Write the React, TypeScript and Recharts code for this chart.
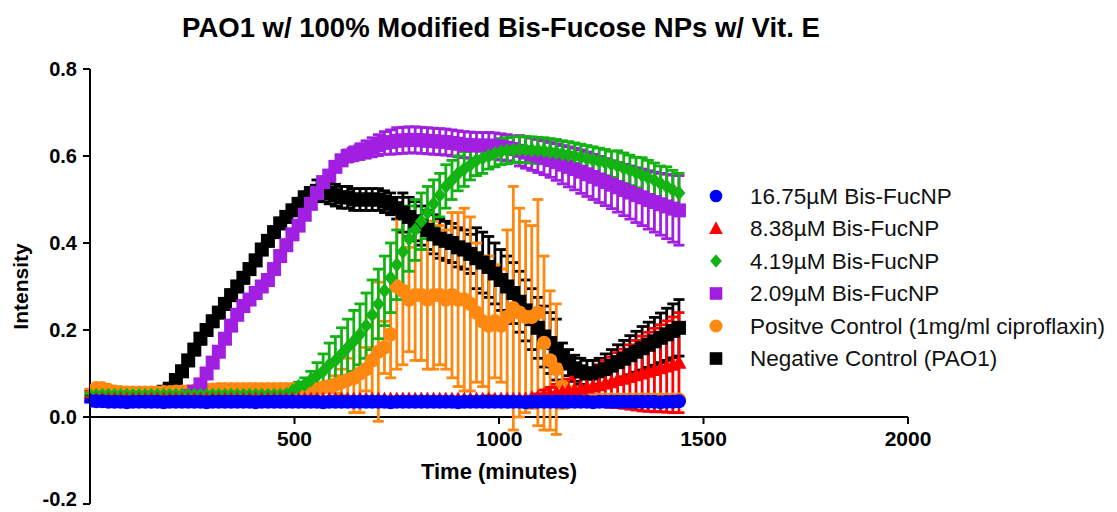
import React from 'react';
import { ScatterChart, Scatter, XAxis, YAxis, ErrorBar, ReferenceLine, Legend } from 'recharts';

// ---------- DATA ----------
const TIME = [
  0, 15, 30, 45, 60, 75, 90, 105, 120, 135,
  150, 165, 180, 195, 210, 225, 240, 255, 270, 285,
  300, 315, 330, 345, 360, 375, 390, 405, 420, 435,
  450, 465, 480, 495, 510, 525, 540, 555, 570, 585,
  600, 615, 630, 645, 660, 675, 690, 705, 720, 735,
  750, 765, 780, 795, 810, 825, 840, 855, 870, 885,
  900, 915, 930, 945, 960, 975, 990, 1005, 1020, 1035,
  1050, 1065, 1080, 1095, 1110, 1125, 1140, 1155, 1170, 1185,
  1200, 1215, 1230, 1245, 1260, 1275, 1290, 1305, 1320, 1335,
  1350, 1365, 1380, 1395, 1410, 1425, 1440,
];

const BLUE_16_75 = [
  0.037, 0.036, 0.036, 0.035, 0.035, 0.035, 0.034, 0.035, 0.035, 0.035,
  0.035, 0.035, 0.034, 0.035, 0.035, 0.035, 0.035, 0.035, 0.035, 0.034,
  0.035, 0.035, 0.035, 0.035, 0.035, 0.035, 0.035, 0.034, 0.035, 0.035,
  0.035, 0.035, 0.035, 0.035, 0.035, 0.035, 0.035, 0.035, 0.034, 0.035,
  0.035, 0.035, 0.035, 0.035, 0.035, 0.035, 0.035, 0.035, 0.035, 0.034,
  0.035, 0.035, 0.035, 0.035, 0.035, 0.035, 0.035, 0.035, 0.035, 0.035,
  0.034, 0.035, 0.035, 0.035, 0.035, 0.035, 0.035, 0.035, 0.035, 0.035,
  0.035, 0.034, 0.035, 0.035, 0.035, 0.035, 0.035, 0.035, 0.035, 0.035,
  0.035, 0.035, 0.034, 0.035, 0.035, 0.035, 0.035, 0.035, 0.035, 0.035,
  0.035, 0.035, 0.035, 0.034, 0.035, 0.035, 0.036,
];
const BLUE_16_75_ERR = [
  0.003, 0.003, 0.003, 0.003, 0.003, 0.003, 0.003, 0.003, 0.003, 0.003,
  0.003, 0.003, 0.003, 0.003, 0.003, 0.003, 0.003, 0.003, 0.003, 0.003,
  0.003, 0.003, 0.003, 0.003, 0.003, 0.003, 0.003, 0.003, 0.003, 0.003,
  0.003, 0.003, 0.003, 0.003, 0.003, 0.003, 0.003, 0.003, 0.003, 0.003,
  0.003, 0.003, 0.003, 0.003, 0.003, 0.003, 0.003, 0.003, 0.003, 0.003,
  0.003, 0.003, 0.003, 0.003, 0.003, 0.003, 0.003, 0.003, 0.003, 0.003,
  0.003, 0.003, 0.003, 0.003, 0.003, 0.003, 0.003, 0.003, 0.003, 0.003,
  0.003, 0.003, 0.003, 0.003, 0.003, 0.003, 0.003, 0.003, 0.003, 0.003,
  0.003, 0.003, 0.003, 0.003, 0.003, 0.003, 0.003, 0.003, 0.003, 0.003,
  0.003, 0.003, 0.003, 0.003, 0.003, 0.003, 0.003,
];

const RED_8_38 = [
  0.04, 0.04, 0.04, 0.04, 0.04, 0.04, 0.04, 0.04, 0.04, 0.04,
  0.04, 0.04, 0.04, 0.04, 0.04, 0.04, 0.04, 0.04, 0.04, 0.04,
  0.04, 0.04, 0.04, 0.04, 0.04, 0.04, 0.04, 0.04, 0.04, 0.04,
  0.04, 0.04, 0.04, 0.04, 0.04, 0.04, 0.04, 0.04, 0.04, 0.04,
  0.04, 0.04, 0.04, 0.04, 0.04, 0.04, 0.04, 0.04, 0.04, 0.04,
  0.04, 0.04, 0.04, 0.04, 0.04, 0.04, 0.04, 0.04, 0.04, 0.04,
  0.04, 0.04, 0.04, 0.04, 0.04, 0.04, 0.04, 0.04, 0.04, 0.04,
  0.04, 0.041, 0.043, 0.045, 0.05, 0.052, 0.055, 0.057, 0.06, 0.062,
  0.065, 0.068, 0.07, 0.073, 0.077, 0.08, 0.085, 0.088, 0.092, 0.096,
  0.1, 0.104, 0.108, 0.112, 0.116, 0.12, 0.125,
];
const RED_8_38_ERR = [
  0.004, 0.004, 0.004, 0.004, 0.004, 0.004, 0.004, 0.004, 0.004, 0.004,
  0.004, 0.004, 0.004, 0.004, 0.004, 0.004, 0.004, 0.004, 0.004, 0.004,
  0.004, 0.004, 0.004, 0.004, 0.004, 0.004, 0.004, 0.004, 0.004, 0.004,
  0.004, 0.004, 0.004, 0.004, 0.004, 0.004, 0.004, 0.004, 0.004, 0.004,
  0.004, 0.004, 0.004, 0.004, 0.004, 0.004, 0.004, 0.004, 0.004, 0.004,
  0.004, 0.004, 0.004, 0.004, 0.004, 0.004, 0.004, 0.004, 0.004, 0.004,
  0.004, 0.004, 0.004, 0.004, 0.004, 0.004, 0.004, 0.004, 0.004, 0.004,
  0.004, 0.004, 0.004, 0.008, 0.012, 0.016, 0.02, 0.024, 0.027, 0.03,
  0.034, 0.038, 0.042, 0.047, 0.053, 0.058, 0.063, 0.068, 0.074, 0.08,
  0.086, 0.091, 0.096, 0.1, 0.105, 0.11, 0.115,
];

const GREEN_4_19 = [
  0.05, 0.05, 0.05, 0.05, 0.05, 0.05, 0.05, 0.05, 0.05, 0.05,
  0.05, 0.05, 0.05, 0.05, 0.05, 0.05, 0.05, 0.05, 0.05, 0.05,
  0.05, 0.05, 0.05, 0.05, 0.05, 0.05, 0.05, 0.05, 0.05, 0.05,
  0.05, 0.05, 0.052, 0.06, 0.07, 0.075, 0.085, 0.095, 0.105, 0.12,
  0.13, 0.145, 0.16, 0.175, 0.19, 0.21, 0.235, 0.26, 0.29, 0.32,
  0.35, 0.38, 0.41, 0.43, 0.45, 0.47, 0.49, 0.51, 0.53, 0.545,
  0.56, 0.57, 0.58, 0.59, 0.595, 0.6, 0.605, 0.61, 0.612, 0.614,
  0.615, 0.615, 0.614, 0.613, 0.612, 0.61, 0.608, 0.605, 0.603, 0.6,
  0.597, 0.594, 0.591, 0.588, 0.585, 0.581, 0.577, 0.572, 0.567, 0.562,
  0.556, 0.55, 0.544, 0.537, 0.53, 0.522, 0.515,
];
const GREEN_4_19_ERR = [
  0.004, 0.004, 0.004, 0.004, 0.004, 0.004, 0.004, 0.004, 0.004, 0.004,
  0.004, 0.004, 0.004, 0.004, 0.004, 0.004, 0.004, 0.004, 0.004, 0.004,
  0.004, 0.004, 0.004, 0.004, 0.004, 0.004, 0.004, 0.004, 0.004, 0.004,
  0.004, 0.004, 0.004, 0.005, 0.01, 0.015, 0.02, 0.03, 0.04, 0.05,
  0.055, 0.06, 0.065, 0.07, 0.07, 0.075, 0.08, 0.08, 0.08, 0.08,
  0.08, 0.08, 0.075, 0.07, 0.065, 0.06, 0.055, 0.05, 0.05, 0.045,
  0.04, 0.04, 0.035, 0.035, 0.035, 0.03, 0.03, 0.03, 0.03, 0.03,
  0.03, 0.03, 0.03, 0.03, 0.03, 0.03, 0.03, 0.03, 0.03, 0.03,
  0.03, 0.03, 0.03, 0.03, 0.03, 0.03, 0.035, 0.035, 0.035, 0.035,
  0.04, 0.04, 0.04, 0.04, 0.045, 0.045, 0.045,
];

const PURPLE_2_09 = [
  0.04, 0.04, 0.04, 0.04, 0.04, 0.04, 0.04, 0.04, 0.04, 0.04,
  0.04, 0.04, 0.04, 0.04, 0.041, 0.042, 0.048, 0.058, 0.075, 0.1,
  0.125, 0.15, 0.18, 0.21, 0.235, 0.255, 0.27, 0.285, 0.3, 0.315,
  0.34, 0.37, 0.395, 0.42, 0.44, 0.465, 0.49, 0.515, 0.54, 0.555,
  0.575, 0.59, 0.6, 0.605, 0.61, 0.615, 0.62, 0.625, 0.63, 0.632,
  0.635, 0.636, 0.637, 0.637, 0.636, 0.635, 0.634, 0.633, 0.632, 0.63,
  0.628, 0.626, 0.625, 0.624, 0.624, 0.624, 0.623, 0.621, 0.619, 0.616,
  0.612, 0.608, 0.604, 0.6, 0.596, 0.591, 0.586, 0.58, 0.575, 0.57,
  0.564, 0.558, 0.552, 0.546, 0.54, 0.534, 0.528, 0.522, 0.516, 0.51,
  0.505, 0.499, 0.494, 0.489, 0.484, 0.479, 0.475,
];
const PURPLE_2_09_ERR = [
  0.004, 0.004, 0.004, 0.004, 0.004, 0.004, 0.004, 0.004, 0.004, 0.004,
  0.004, 0.004, 0.004, 0.004, 0.004, 0.004, 0.004, 0.01, 0.01, 0.01,
  0.01, 0.01, 0.01, 0.01, 0.01, 0.01, 0.01, 0.01, 0.01, 0.01,
  0.01, 0.01, 0.01, 0.01, 0.01, 0.01, 0.01, 0.01, 0.01, 0.01,
  0.01, 0.012, 0.014, 0.016, 0.018, 0.02, 0.022, 0.024, 0.026, 0.028,
  0.03, 0.03, 0.03, 0.03, 0.03, 0.03, 0.03, 0.03, 0.03, 0.03,
  0.03, 0.03, 0.03, 0.03, 0.03, 0.03, 0.03, 0.03, 0.03, 0.03,
  0.035, 0.036, 0.037, 0.038, 0.039, 0.04, 0.042, 0.044, 0.046, 0.048,
  0.05, 0.051, 0.052, 0.053, 0.054, 0.055, 0.057, 0.059, 0.061, 0.063,
  0.065, 0.067, 0.069, 0.071, 0.074, 0.077, 0.08,
];

const ORANGE_POS_CTRL = [
  0.06, 0.066, 0.066, 0.062, 0.058, 0.057, 0.056, 0.056, 0.056, 0.056,
  0.056, 0.056, 0.057, 0.057, 0.058, 0.058, 0.059, 0.06, 0.061, 0.062,
  0.063, 0.064, 0.064, 0.064, 0.064, 0.064, 0.064, 0.064, 0.064, 0.064,
  0.064, 0.064, 0.064, 0.064, 0.064, 0.064, 0.064, 0.065, 0.068, 0.07,
  0.075, 0.08, 0.085, 0.09, 0.1, 0.11, 0.13, 0.15, 0.16, 0.19,
  0.3, 0.29, 0.27, 0.28, 0.28, 0.27, 0.28, 0.28, 0.27, 0.28,
  0.27, 0.27, 0.26, 0.24, 0.22, 0.21, 0.22, 0.21, 0.23, 0.25,
  0.24, 0.23, 0.23, 0.24, 0.17, 0.13, 0.11, 0.07, 0.05, 0.045,
  0.04, 0.04, 0.04, 0.04, 0.04, 0.04, 0.04, 0.04, 0.04, 0.04,
  0.04, 0.04, 0.04, 0.04, 0.04, 0.04, 0.04,
];
const ORANGE_POS_CTRL_ERR = [
  0.004, 0.004, 0.004, 0.004, 0.004, 0.004, 0.004, 0.004, 0.004, 0.004,
  0.004, 0.004, 0.004, 0.004, 0.004, 0.004, 0.004, 0.004, 0.004, 0.004,
  0.004, 0.004, 0.004, 0.004, 0.004, 0.004, 0.004, 0.004, 0.004, 0.004,
  0.004, 0.004, 0.004, 0.004, 0.004, 0.004, 0.004, 0.005, 0.008, 0.012,
  0.02, 0.03, 0.05, 0.08, 0.09, 0.05, 0.1, 0.16, 0.06, 0.1,
  0.19, 0.17, 0.12, 0.15, 0.15, 0.16, 0.17, 0.16, 0.16, 0.19,
  0.2, 0.21, 0.2, 0.16, 0.15, 0.16, 0.13, 0.13, 0.2, 0.28,
  0.24, 0.22, 0.21, 0.26, 0.2, 0.16, 0.15, 0.05, 0.02, 0.01,
  0.005, 0.005, 0.005, 0.005, 0.005, 0.005, 0.005, 0.005, 0.005, 0.005,
  0.005, 0.005, 0.005, 0.005, 0.005, 0.005, 0.005,
];

const BLACK_NEG_CTRL = [
  0.055, 0.055, 0.055, 0.055, 0.055, 0.055, 0.055, 0.055, 0.055, 0.055,
  0.055, 0.055, 0.058, 0.065, 0.085, 0.105, 0.13, 0.155, 0.18, 0.2,
  0.22, 0.24, 0.26, 0.28, 0.3, 0.32, 0.34, 0.36, 0.385, 0.405,
  0.425, 0.445, 0.46, 0.475, 0.49, 0.505, 0.515, 0.52, 0.52, 0.515,
  0.51, 0.505, 0.505, 0.5, 0.5, 0.5, 0.5, 0.5, 0.495, 0.49,
  0.48, 0.47, 0.46, 0.45, 0.44, 0.43, 0.42, 0.41, 0.405, 0.4,
  0.39, 0.385, 0.375, 0.365, 0.355, 0.345, 0.33, 0.315, 0.3, 0.285,
  0.265, 0.245, 0.225, 0.205, 0.185, 0.17, 0.155, 0.14, 0.125, 0.112,
  0.105, 0.1, 0.1, 0.105, 0.11, 0.118, 0.126, 0.134, 0.142, 0.15,
  0.158, 0.166, 0.174, 0.182, 0.19, 0.198, 0.205,
];
const BLACK_NEG_CTRL_ERR = [
  0.005, 0.005, 0.005, 0.005, 0.005, 0.005, 0.005, 0.005, 0.005, 0.005,
  0.005, 0.005, 0.005, 0.005, 0.012, 0.012, 0.012, 0.012, 0.012, 0.012,
  0.012, 0.012, 0.012, 0.012, 0.012, 0.012, 0.012, 0.012, 0.012, 0.012,
  0.012, 0.012, 0.012, 0.012, 0.012, 0.012, 0.012, 0.025, 0.025, 0.025,
  0.025, 0.025, 0.025, 0.025, 0.025, 0.025, 0.025, 0.025, 0.025, 0.025,
  0.025, 0.045, 0.045, 0.045, 0.045, 0.045, 0.045, 0.045, 0.045, 0.045,
  0.045, 0.045, 0.045, 0.07, 0.07, 0.07, 0.07, 0.07, 0.07, 0.07,
  0.07, 0.07, 0.07, 0.07, 0.07, 0.07, 0.07, 0.03, 0.03, 0.03,
  0.03, 0.03, 0.03, 0.03, 0.035, 0.037, 0.04, 0.042, 0.045, 0.047,
  0.05, 0.052, 0.055, 0.057, 0.06, 0.062, 0.065,
];

const X_TICKS = [500, 1000, 1500, 2000];
const Y_TICKS = [-0.2, 0, 0.2, 0.4, 0.6, 0.8];

const TITLE = 'PAO1 w/ 100% Modified Bis-Fucose NPs w/ Vit. E';
const X_TITLE = 'Time (minutes)';
const Y_TITLE = 'Intensity';

type ShapeKind = 'circle' | 'triangle' | 'diamond' | 'square';

const SERIES: { name: string; color: string; shape: ShapeKind; values: number[]; errors: number[]; big?: boolean }[] = [
  { name: '16.75\u00b5M Bis-FucNP', color: '#0000ff', shape: 'circle', values: BLUE_16_75, errors: BLUE_16_75_ERR },
  { name: '8.38\u00b5M Bis-FucNP', color: '#ff0000', shape: 'triangle', values: RED_8_38, errors: RED_8_38_ERR },
  { name: '4.19\u00b5M Bis-FucNP', color: '#13b313', shape: 'diamond', values: GREEN_4_19, errors: GREEN_4_19_ERR },
  { name: '2.09\u00b5M Bis-FucNP', color: '#a11fe0', shape: 'square', values: PURPLE_2_09, errors: PURPLE_2_09_ERR },
  { name: 'Positve Control (1mg/ml ciproflaxin)', color: '#ff8810', shape: 'circle', values: ORANGE_POS_CTRL, errors: ORANGE_POS_CTRL_ERR, big: true },
  { name: 'Negative Control (PAO1)', color: '#000000', shape: 'square', values: BLACK_NEG_CTRL, errors: BLACK_NEG_CTRL_ERR },
];

// ---------- LAYOUT ----------
const FONT = '"Liberation Sans", Arial, Helvetica, sans-serif';
const CHART_W = 1109;
const CHART_H = 504;
const X_AXIS_H = 8;
const MARGIN = { top: 61, right: 209, bottom: 0, left: 0 };
const Y_AXIS_W = 82;
const Y_MIN = -0.2;
const Y_MAX = 0.8;
const PLOT_H = CHART_H - MARGIN.top - MARGIN.bottom - X_AXIS_H;
const ZERO_Y = MARGIN.top + (PLOT_H * (Y_MAX - 0)) / (Y_MAX - Y_MIN);
const PLOT_CX = Y_AXIS_W + (CHART_W - MARGIN.right - Y_AXIS_W) / 2;

function Marker({ shape, cx, cy, color, big, legend }: { shape: ShapeKind; cx: number; cy: number; color: string; big?: boolean; legend?: boolean }) {
  if (cx == null || cy == null || isNaN(cx) || isNaN(cy)) return null;
  const k = legend ? 0.9 : 1;
  if (shape === 'circle') return <circle cx={cx} cy={cy} r={(big ? 7.2 : 7) * k} fill={color} />;
  if (shape === 'square') {
    const h = 7 * k;
    return <rect x={cx - h} y={cy - h} width={2 * h} height={2 * h} fill={color} />;
  }
  if (shape === 'diamond') {
    const w = 6.5 * k;
    const h = 7.5 * k;
    return <polygon points={`${cx},${cy - h} ${cx + w},${cy} ${cx},${cy + h} ${cx - w},${cy}`} fill={color} />;
  }
  const t = k;
  return <polygon points={`${cx},${cy - 8 * t} ${cx + 7.5 * t},${cy + 6 * t} ${cx - 7.5 * t},${cy + 6 * t}`} fill={color} />;
}

const XTick = (props: any) => {
  const { x, payload } = props;
  return (
    <g>
      <line x1={x} x2={x} y1={ZERO_Y} y2={ZERO_Y + 7} stroke="#000" strokeWidth={2} />
      <text
        x={x}
        y={ZERO_Y + 21}
        textAnchor="middle"
        dominantBaseline="central"
        fontSize={21}
        fontWeight="bold"
        fontFamily={FONT}
        fill="#000"
      >
        {payload.value}
      </text>
    </g>
  );
};

const YTick = (props: any) => {
  const { x, y, payload } = props;
  const ty = Math.min(y, CHART_H - 13);
  return (
    <text
      x={x}
      y={ty}
      textAnchor="end"
      dominantBaseline="central"
      fontSize={20}
      fontWeight="bold"
      fontFamily={FONT}
      fill="#000"
    >
      {Number(payload.value).toFixed(1)}
    </text>
  );
};

const LegendContent = () => (
  <svg width={419} height={200}>
    {SERIES.map((s, k) => {
      const cy = 18 + k * 32.5;
      return (
        <g key={s.name}>
          <Marker shape={s.shape} cx={18} cy={cy} color={s.color} big={s.big} legend />
          <text x={52} y={cy} dominantBaseline="central" fontSize={22.5} fontFamily={FONT} fill="#111">
            {s.name}
          </text>
        </g>
      );
    })}
  </svg>
);

export default function App() {
  const drawOrder = [...SERIES].reverse();
  return (
    <div style={{ position: 'relative', width: CHART_W, height: CHART_H, background: '#fff' }}>
      <ScatterChart width={CHART_W} height={CHART_H} margin={MARGIN}>
        <XAxis
          type="number"
          dataKey="t"
          domain={[0, 2000]}
          ticks={X_TICKS}
          interval={0}
          axisLine={false}
          tickLine={false}
          tick={XTick}
          height={X_AXIS_H}
          allowDataOverflow
        />
        <YAxis
          type="number"
          dataKey="v"
          domain={[Y_MIN, Y_MAX]}
          ticks={Y_TICKS}
          interval={0}
          width={Y_AXIS_W}
          allowDataOverflow
          axisLine={{ stroke: '#000', strokeWidth: 2 }}
          tickLine={{ stroke: '#000', strokeWidth: 2 }}
          tickSize={7}
          tickMargin={6}
          tick={YTick}
        />
        <ReferenceLine y={0} stroke="#000" strokeWidth={2} ifOverflow="extendDomain" />
        {drawOrder.map((s) => (
          <Scatter
            key={s.name}
            name={s.name}
            data={TIME.map((t, i) => ({ t, v: s.values[i], e: s.errors[i] }))}
            fill={s.color}
            isAnimationActive={false}
            shape={(p: any) => <Marker shape={s.shape} cx={p.cx} cy={p.cy} color={s.color} big={s.big} />}
          >
            <ErrorBar dataKey="e" direction="y" width={5.5} stroke={s.color} strokeWidth={2.8} isAnimationActive={false} />
          </Scatter>
        ))}
        <Legend
          layout="vertical"
          align="center"
          verticalAlign="middle"
          content={LegendContent}
          wrapperStyle={{ left: 690, top: 170, width: 419, height: 200, right: 'auto', bottom: 'auto' }}
        />
      </ScatterChart>
      <svg
        width={CHART_W}
        height={CHART_H}
        style={{ position: 'absolute', left: 0, top: 0, pointerEvents: 'none' }}
      >
        <text x={493} y={28.5} textAnchor="middle" fontSize={27.5} fontWeight="bold" fontFamily={FONT} fill="#000">
          {TITLE}
        </text>
        <text
          x={PLOT_CX}
          y={463}
          textAnchor="middle"
          dominantBaseline="central"
          fontSize={22}
          fontWeight="bold"
          fontFamily={FONT}
          fill="#000"
        >
          {X_TITLE}
        </text>
        <text
          x={12}
          y={MARGIN.top + PLOT_H / 2}
          textAnchor="middle"
          dominantBaseline="central"
          fontSize={21}
          fontWeight="bold"
          fontFamily={FONT}
          fill="#000"
          transform={`rotate(-90 12 ${MARGIN.top + PLOT_H / 2})`}
        >
          {Y_TITLE}
        </text>
      </svg>
    </div>
  );
}
